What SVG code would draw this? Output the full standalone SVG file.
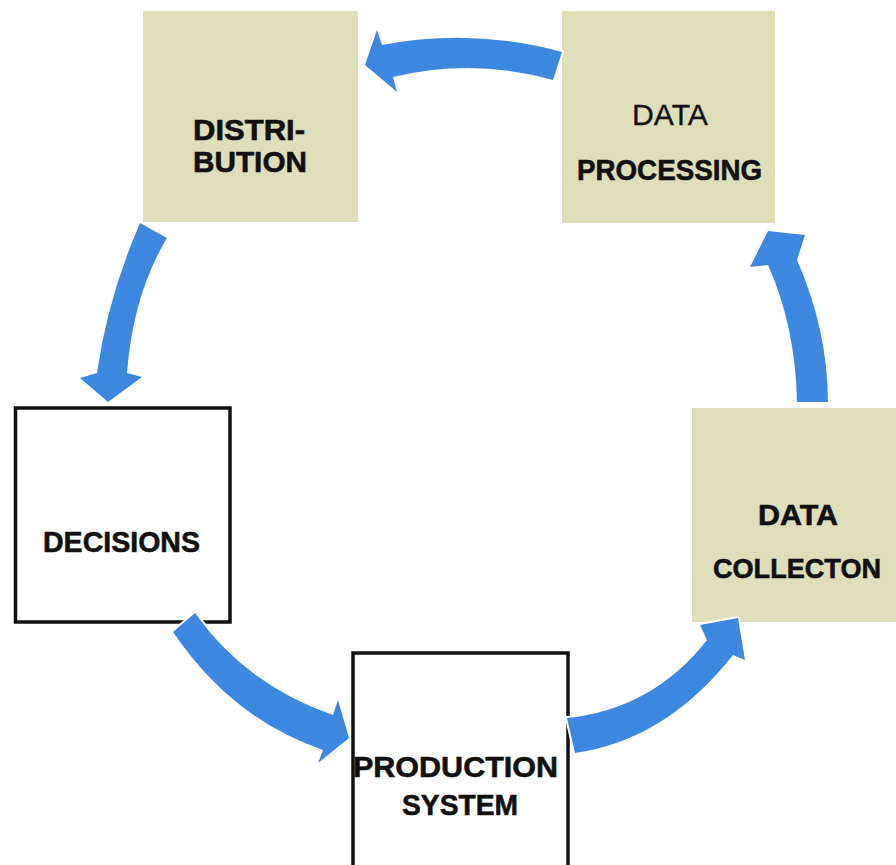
<svg xmlns="http://www.w3.org/2000/svg" width="896" height="865" viewBox="0 0 896 865">
<style>
.tan{fill:#DEDEB9}
.wbox{fill:#fff;stroke:#111;stroke-width:3.5}
.arr{fill:#3C87E0;stroke:#fff;stroke-width:4;stroke-linejoin:round;paint-order:stroke}
text{font-family:"Liberation Sans",Arial,sans-serif;font-size:30px;font-weight:bold;fill:#111;stroke:#111;stroke-width:0.6;text-anchor:middle}
.reg{font-weight:normal;stroke-width:0.3}
.sm{font-size:28px}
</style>
<rect width="896" height="865" fill="#fff"/>
<g id="distribution">
<rect class="tan" x="143" y="11" width="215" height="211"/>
<text x="249" y="140" textLength="112" lengthAdjust="spacingAndGlyphs">DISTRI-</text>
<text x="250" y="172" textLength="114" lengthAdjust="spacingAndGlyphs">BUTION</text>
</g>
<g id="data-processing">
<rect class="tan" x="562" y="11" width="213" height="212"/>
<text class="reg" x="670" y="125" textLength="76" lengthAdjust="spacingAndGlyphs">DATA</text>
<text x="669.5" y="180" textLength="185" lengthAdjust="spacingAndGlyphs">PROCESSING</text>
</g>
<g id="data-collection">
<rect class="tan" x="692" y="408" width="204" height="214"/>
<text x="798" y="525" textLength="80" lengthAdjust="spacingAndGlyphs">DATA</text>
<text class="sm" x="797" y="578" textLength="168" lengthAdjust="spacingAndGlyphs">COLLECTON</text>
</g>
<g id="decisions">
<rect class="wbox" x="15.5" y="408" width="214.5" height="214"/>
<text x="121.5" y="552" textLength="157" lengthAdjust="spacingAndGlyphs">DECISIONS</text>
</g>
<g id="production-system">
<rect class="wbox" x="353" y="653" width="215" height="240"/>
<text x="455.5" y="777" textLength="205" lengthAdjust="spacingAndGlyphs">PRODUCTION</text>
<text x="460" y="815" textLength="116" lengthAdjust="spacingAndGlyphs">SYSTEM</text>
</g>
<g id="connectors">
<path class="arr" d="M562,52 Q472,27.5 382,45 L377,30 L365,65 L397,92 L393,77 Q473,57.5 553,80 Z"/>
<path class="arr" d="M140,223 Q107.5,298 97,373 L80,378 L108,402 L142,377 L127,373 Q133,294.5 167,238 Z"/>
<path class="arr" d="M195,613 Q246,685 333,715 L338,700 L349,738 L318,763 L323,750 Q232,719 173,632 Z"/>
<path class="arr" d="M567,718 Q653,709 707,640 L700,625 L738,618 L745,660 L733,655 Q666,740 575,753 Z"/>
<path class="arr" d="M797,402 Q795.5,326.5 768,265 L750,267 L768,231 L805,235 L797,260 Q827.5,329 828,402 Z"/>
</g>
</svg>
